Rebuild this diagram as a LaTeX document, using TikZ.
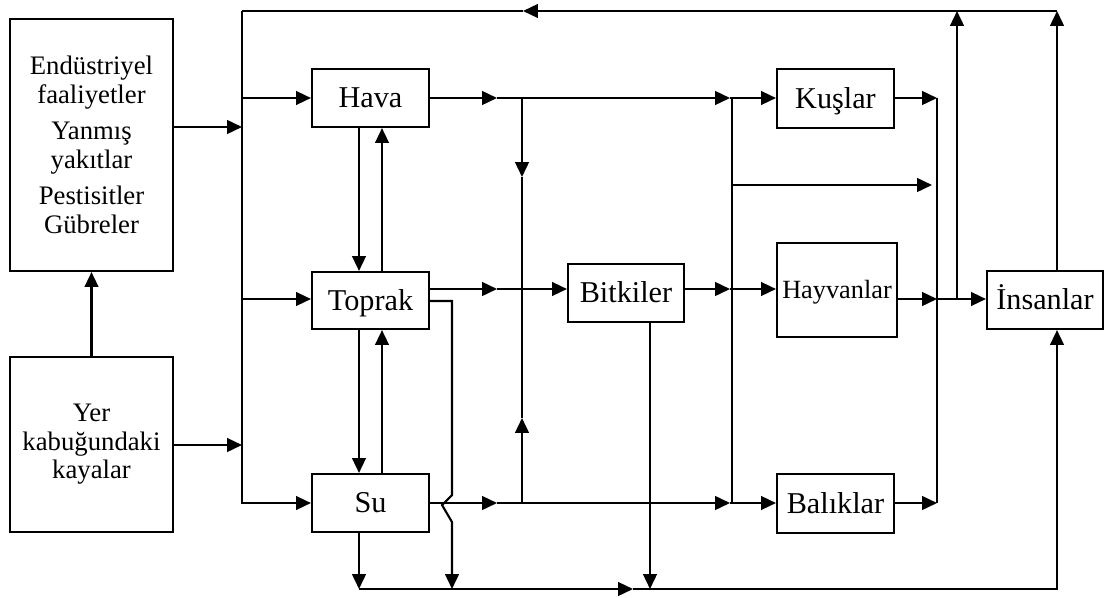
\documentclass[tikz,border=0pt]{standalone}
\usepackage{fontspec}
\setmainfont{Liberation Serif}
\usetikzlibrary{arrows.meta}
\begin{document}
\begin{tikzpicture}[x=0.025cm,y=-0.025cm,line width=1.5pt,
  blk/.style n args={2}{draw, rectangle, inner sep=0pt,
    minimum width=#1*0.025cm, minimum height=#2*0.025cm,
    text height=14pt, text depth=0pt, font=\fontsize{21.5}{25}\selectfont},
  multi/.style={align=center, text height=, text depth=},
  arr/.style={-{Triangle[length=0.37cm,width=0.34cm]}},
  ]
\useasboundingbox (0,0) rectangle (1104,598);

% sources
\node[blk={163}{252}, multi, font=\fontsize{19}{20.6}\selectfont] (src) at (91.5,145)
  {Endüstriyel\\faaliyetler\\[5pt]Yanmış\\yakıtlar\\[5pt]Pestisitler\\Gübreler};
\node[blk={163}{175}, multi, font=\fontsize{19}{20.3}\selectfont] (rock) at (91.5,444.5)
  {Yer\\kabuğundaki\\kayalar};

% environment compartments
\node[blk={117}{58}] (hava)   at (370.5,98)    {Hava};
\node[blk={117}{57}] (toprak) at (370.5,300.5) {Toprak};
\node[blk={117}{58}] (su)     at (370.5,503)   {Su};
\node[blk={116}{58}] (bitkiler) at (626,293)   {Bitkiler};

% living receptors
\node[blk={117}{59}] (kuslar) at (835.5,98.5) {Kuşlar};
\node[blk={120}{94}, font=\fontsize{18.7}{22}\selectfont, text height=12.3pt] (hayvanlar) at (837,290) {Hayvanlar};
\node[blk={117}{59}] (baliklar) at (835.5,503.5) {Balıklar};
\node[blk={116}{58}] (insanlar) at (1045,300) {İnsanlar};

% junction points
\coordinate (tl) at (242,11);
\coordinate (tr) at (1057,11);
\coordinate (tm) at (523,11);
\coordinate (t957) at (957,11);
\coordinate (b1) at (242,127);
\coordinate (b2) at (242,445);
\coordinate (bH) at (242,98);
\coordinate (bT) at (242,299);
\coordinate (bS) at (242,503);
\coordinate (dn) at (359,0);
\coordinate (upx) at (382,0);
\coordinate (h1) at (497,98);
\coordinate (h2) at (522,98);
\coordinate (h3) at (730,98);
\coordinate (h4) at (732,98);
\coordinate (t1) at (497,289);
\coordinate (p1) at (730,289);
\coordinate (v1) at (522,177);
\coordinate (v2) at (522,418);
\coordinate (s1) at (497,503);
\coordinate (s2) at (522,503);
\coordinate (s3) at (730,503);
\coordinate (s4) at (732,503);
\coordinate (m1) at (732,185);
\coordinate (m2) at (932,185);
\coordinate (k1) at (937,98);
\coordinate (r1) at (937,299);
\coordinate (r2) at (937,503);
\coordinate (r957) at (957,299);
\coordinate (g1) at (452,301);
\coordinate (g2) at (452,495);
\coordinate (g3) at (442,505);
\coordinate (g4) at (452,522);
\coordinate (g5) at (452,589);
\coordinate (bot1) at (359,589);
\coordinate (bm) at (633,589);
\coordinate (bot2) at (1057,589);
\coordinate (bk) at (650,589);

% inputs to the left bus
\draw[arr] (src.east |- b1) -- (b1);
\draw[arr] (rock.east |- b2) -- (b2);
\draw[arr] (rock.north) -- (src.south);
\draw[arr] (tl) -- (bS) -- (su.west);
\draw[arr] (bH) -- (hava.west);
\draw[arr] (bT) -- (bT -| toprak.west);

% feedback along the top
\draw[arr] (tr) -- (tm);
\draw (tm) -- (tl);
\draw[arr] (tr |- insanlar.north) -- (tr);
\draw[arr] (r957) -- (t957);

% exchanges between air, soil and water
\draw[arr] (dn |- hava.south) -- (dn |- toprak.north);
\draw[arr] (upx |- toprak.north) -- (upx |- hava.south);
\draw[arr] (dn |- toprak.south) -- (dn |- su.north);
\draw[arr] (upx |- su.north) -- (upx |- toprak.south);

% bottom return line
\draw[arr] (dn |- su.south) -- (bot1);
\draw[arr] (bot1) -- (bm);
\draw[arr] (bm) -- (bot2) -- (tr |- insanlar.south);
\draw[arr] (toprak.east |- g1) -- (g1) -- (g2) -- (g3) -- (g4) -- (g5);
\draw[arr] (bk |- bitkiler.south) -- (bk);

% air row
\draw[arr] (hava.east) -- (h1);
\draw[arr] (h1) -- (h3);
\draw[arr] (h3) -- (kuslar.west |- h3);

% soil row
\draw[arr] (toprak.east |- t1) -- (t1);
\draw[arr] (t1) -- (bitkiler.west |- t1);

% water row
\draw[arr] (su.east) -- (s1);
\draw[arr] (s1) -- (s3);
\draw[arr] (s3) -- (baliklar.west |- s3);

% vertical links
\draw[arr] (h2) -- (v1);
\draw (v1) -- (v2);
\draw[arr] (s2) -- (v2);
\draw (h4) -- (s4);

% plants to animals
\draw[arr] (bitkiler.east |- t1) -- (p1);
\draw[arr] (p1) -- (hayvanlar.west |- p1);
\draw[arr] (m1) -- (m2);

% animals to humans
\draw[arr] (kuslar.east |- k1) -- (k1);
\draw[arr] (hayvanlar.east |- r1) -- (r1);
\draw[arr] (baliklar.east |- r2) -- (r2);
\draw (k1) -- (r2);
\draw[arr] (r1) -- (insanlar.west |- r1);
\end{tikzpicture}
\end{document}
